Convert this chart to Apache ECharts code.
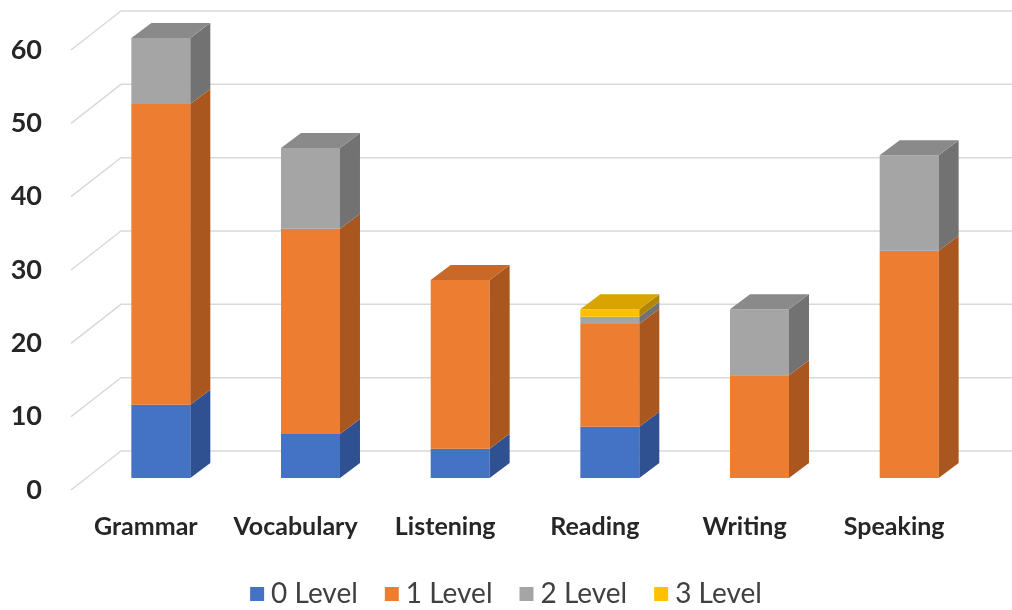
<!DOCTYPE html>
<html>
<head>
<meta charset="utf-8">
<script src="https://cdn.jsdelivr.net/npm/echarts@6/dist/echarts.min.js"></script>
<style>
  html, body { margin: 0; padding: 0; background: #fff; }
  #chart { width: 1012px; height: 610px; }
</style>
</head>
<body>
<div id="chart"></div>
<script>
const categories = ['Grammar', 'Vocabulary', 'Listening', 'Reading', 'Writing', 'Speaking']
const level0 = [10, 6, 4, 7, 0, 0]
const level1 = [41, 28, 23, 14, 14, 31]
const level2 = [9, 11, 0, 1, 9, 13]
const level3 = [0, 0, 0, 1, 0, 0]
const levelNames = ['0 Level', '1 Level', '2 Level', '3 Level']
const yTicks = [0, 10, 20, 30, 40, 50, 60]

const levels = [level0, level1, level2, level3]
const colors = ['#4472C4', '#ED7D31', '#A5A5A5', '#FFC000']
const tops = ['#3A62A8', '#C8692A', '#8A8A8A', '#D9A300']
const sides = ['#2F5191', '#A9561F', '#727272', '#B38600']

// 3d offsets (px): front plane -> bar front, bar depth, back wall
const OFF_X = 15, OFF_Y = -12
const DX = 20, DY = -15
const WALL_X = 50, WALL_Y = -39

// cumulative stacks: [category, base, top, isTopSegment]
function stackData(li) {
  return categories.map((c, ci) => {
    let base = 0
    for (let k = 0; k < li; k++) base += levels[k][ci]
    let later = 0
    for (let k = li + 1; k < levels.length; k++) later += levels[k][ci]
    return [ci, base, base + levels[li][ci], later === 0 ? 1 : 0]
  })
}

function barRenderer(li) {
  return function (params, api) {
    const ci = api.value(0)
    const base = api.value(1)
    const top = api.value(2)
    if (top <= base) return
    const p0 = api.coord([ci, base])
    const p1 = api.coord([ci, top])
    const w = api.size([1, 0])[0] * 0.394
    const xl = p0[0] - w / 2 + OFF_X
    const xr = xl + w
    const yb = p0[1] + OFF_Y
    const yt = p1[1] + OFF_Y
    const children = [
      {
        type: 'rect',
        shape: { x: xl, y: yt, width: w, height: yb - yt },
        style: { fill: colors[li] }
      },
      {
        type: 'polygon',
        shape: { points: [[xr, yb], [xr + DX, yb + DY], [xr + DX, yt + DY], [xr, yt]] },
        style: { fill: sides[li] }
      }
    ]
    if (api.value(3) === 1) {
      children.push({
        type: 'polygon',
        shape: { points: [[xl, yt], [xr, yt], [xr + DX, yt + DY], [xl + DX, yt + DY]] },
        style: { fill: tops[li] }
      })
    }
    return { type: 'group', children: children }
  }
}

function gridRenderer(params, api) {
  const v = api.value(0)
  const y = api.coord([0, v])[1]
  const x0 = params.coordSys.x
  return {
    type: 'group',
    children: [
      {
        type: 'polyline',
        shape: { points: [[x0, y], [x0 + WALL_X, y + WALL_Y], [api.getWidth(), y + WALL_Y]] },
        style: { stroke: '#D9D9D9', lineWidth: 1.5, fill: null }
      }
    ]
  }
}

const chart = echarts.init(document.getElementById('chart'))

const series = [{
  type: 'custom',
  name: 'grid',
  silent: true,
  z: 1,
  renderItem: gridRenderer,
  encode: { y: 0 },
  data: yTicks.map(t => [t])
}]
levelNames.forEach((name, li) => {
  series.push({
    type: 'custom',
    name: name,
    z: 2 + li,
    renderItem: barRenderer(li),
    itemStyle: { color: colors[li] },
    encode: { x: 0, y: [1, 2] },
    data: stackData(li)
  })
})

chart.setOption({
  animation: false,
  grid: { left: 71, right: 43, top: 50, bottom: 120 },
  xAxis: {
    type: 'category',
    data: categories,
    axisLine: { show: false },
    axisTick: { show: false },
    axisLabel: {
      interval: 0,
      margin: 24,
      color: '#262626',
      fontFamily: 'Lato',
      fontWeight: 'bold',
      fontSize: 25
    }
  },
  yAxis: {
    type: 'value',
    min: 0,
    max: 60,
    interval: 10,
    axisLine: { show: false },
    axisTick: { show: false },
    splitLine: { show: false },
    axisLabel: {
      margin: 29,
      color: '#262626',
      fontFamily: 'Lato',
      fontWeight: 'bold',
      fontSize: 27
    }
  },
  legend: {
    data: levelNames,
    bottom: -3,
    icon: 'rect',
    itemWidth: 14,
    itemHeight: 14,
    itemGap: 27,
    textStyle: {
      color: '#404040',
      fontFamily: 'Lato',
      fontSize: 28,
      padding: [0, 0, 0, 2]
    }
  },
  series: series
})
</script>
</body>
</html>
